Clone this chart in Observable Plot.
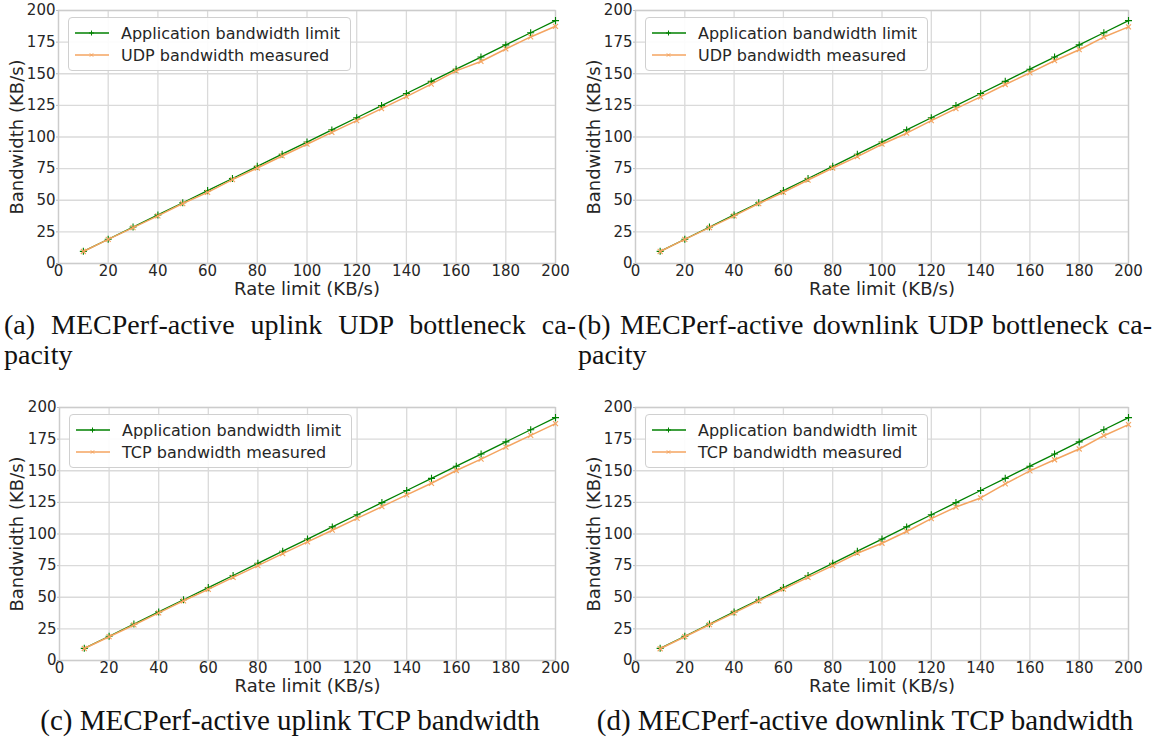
<!DOCTYPE html>
<html>
<head>
<meta charset="utf-8">
<script src="https://cdn.jsdelivr.net/npm/d3@7"></script>
<script src="https://cdn.jsdelivr.net/npm/@observablehq/plot@0.6"></script>
<style>
  html, body { margin: 0; padding: 0; background: #fff; }
  #page { position: relative; width: 1153px; height: 740px; overflow: hidden; }
  .panel { position: absolute; }
  .legend {
    position: absolute; background: rgba(255,255,255,0.9);
    border: 1px solid #d0d0d0; border-radius: 4px;
    font-family: "DejaVu Sans", sans-serif; font-size: 16px; color: #262626;
    padding: 4px 10px 4px 6px;
  }
  .legend .row { display: flex; align-items: center; height: 22px; }
  .legend svg { margin-right: 12px; }
  .caption {
    position: absolute; font-family: "Liberation Serif", serif; font-size: 29px;
    line-height: 30px; color: #111; white-space: nowrap;
  }
  .just { text-align: justify; text-align-last: justify; white-space: normal; font-size: 28px; }
  .cont { font-size: 28px; }
</style>
</head>
<body>
<div id="page"></div>
<script>
// Rate limits configured for each run (KB/s)
const rates = [10, 20, 30, 40, 50, 60, 70, 80, 90, 100, 110, 120, 130, 140, 150, 160, 170, 180, 190, 200];

// Bandwidth cap enforced by the application (KB/s)
const appLimit = [9.6, 19.2, 28.8, 38.4, 48, 57.6, 67.2, 76.8, 86.4, 96, 105.6, 115.2, 124.8, 134.4, 144, 153.6, 163.2, 172.8, 182.4, 192];

// Measured throughput (KB/s)
const udpUplink   = [9.5, 19.1, 28.4, 37.6, 47.4, 56.2, 66.3, 75.5, 85.0, 94.3, 103.6, 112.9, 122.4, 131.9, 141.8, 152.3, 159.7, 169.6, 179.1, 187.5];
const udpDownlink = [9.5, 19.1, 28.4, 37.6, 47.4, 56.3, 66.0, 75.5, 84.5, 94.3, 103.0, 112.9, 122.4, 131.7, 141.5, 150.7, 160.3, 169.0, 179.0, 187.1];
const tcpUplink   = [9.5, 18.8, 28.1, 37.6, 47.2, 56.2, 65.7, 75.0, 84.5, 93.8, 103.0, 112.3, 121.6, 130.9, 140.1, 150.2, 159.2, 168.7, 178.0, 187.3];
const tcpDownlink = [9.3, 18.8, 28.3, 37.6, 47.2, 56.4, 65.7, 75.0, 84.8, 92.7, 102.0, 112.1, 121.3, 128.5, 139.6, 149.9, 158.7, 167.2, 177.7, 186.5];

const xTicks = [0, 20, 40, 60, 80, 100, 120, 140, 160, 180, 200];
const yTicks = [0, 25, 50, 75, 100, 125, 150, 175, 200];

const limitName = "Application bandwidth limit";
const panels = [
  {measured: udpUplink,   name: "UDP bandwidth measured", left: 0,   top: 0,   ml: 58, mr: 21},
  {measured: udpDownlink, name: "UDP bandwidth measured", left: 577, top: 0,   ml: 58, mr: 25},
  {measured: tcpUplink,   name: "TCP bandwidth measured", left: 0,   top: 397, ml: 59, mr: 21},
  {measured: tcpDownlink, name: "TCP bandwidth measured", left: 577, top: 397, ml: 58, mr: 25}
];

const green = "#008000";
const orange = "#f4a460";
const ink = "#262626";
const page = document.getElementById("page");

function drawPanel(p) {
  const data = rates.map((r, i) => ({rate: r, limit: appLimit[i], measured: p.measured[i]}));
  const chart = Plot.plot({
    width: 576, height: 300,
    marginLeft: p.ml, marginRight: p.mr, marginTop: 10, marginBottom: 37,
    style: {fontFamily: "DejaVu Sans, sans-serif", fontSize: "15px", color: ink, background: "transparent", overflow: "visible"},
    x: {domain: [0, 200], ticks: xTicks, label: null},
    y: {domain: [0, 200], ticks: yTicks, label: null},
    marks: [
      Plot.gridX(xTicks, {stroke: "#dadada", strokeOpacity: 1, strokeWidth: 1.3}),
      Plot.gridY(yTicks, {stroke: "#dadada", strokeOpacity: 1, strokeWidth: 1.3}),
      Plot.frame({stroke: "#cccccc", strokeWidth: 1.3}),
      Plot.axisX(xTicks, {tickSize: 0, tickPadding: 2, fill: ink, fontSize: 15}),
      Plot.axisY(yTicks, {tickSize: 2, tickPadding: 1, stroke: "#bbb", fill: ink, fontSize: 15}),
      Plot.text(["Rate limit (KB/s)"], {frameAnchor: "bottom", text: d => d, dy: 26, lineAnchor: "middle", fontSize: 18, fill: ink}),
      Plot.text(["Bandwidth (KB/s)"], {frameAnchor: "left", text: d => d, dx: -p.ml + 17, rotate: -90, textAnchor: "middle", lineAnchor: "middle", fontSize: 18, fill: ink}),
      Plot.line(data, {x: "rate", y: "limit", stroke: green, strokeWidth: 1.3}),
      Plot.dot(data, {x: "rate", y: "limit", symbol: "plus", r: 2.4, stroke: green, strokeWidth: 1.1}),
      Plot.line(data, {x: "rate", y: "measured", stroke: orange, strokeWidth: 1.5}),
      Plot.dot(data, {x: "rate", y: "measured", symbol: "times", r: 2.4, stroke: orange, strokeWidth: 1.1})
    ]
  });
  const wrap = document.createElement("div");
  wrap.className = "panel";
  wrap.style.left = p.left + "px";
  wrap.style.top = p.top + "px";
  wrap.appendChild(chart);

  // legend box in the upper-left corner of the plotting area
  const legend = document.createElement("div");
  legend.className = "legend";
  legend.style.left = (p.ml + 10) + "px";
  legend.style.top = (10 + 7) + "px";
  const entries = [[limitName, green, "plus"], [p.name, orange, "times"]];
  for (const [label, color, sym] of entries) {
    const row = document.createElement("div");
    row.className = "row";
    const m = sym === "plus"
      ? `<path d="M16.5 0.5v5M14 3h5" stroke="${color}" stroke-width="1"/>`
      : `<path d="M14.8 1.3l3.4 3.4M18.2 1.3l-3.4 3.4" stroke="${color}" stroke-width="1"/>`;
    row.innerHTML = `<svg width="34" height="6" viewBox="0 0 34 6"><line x1="0" x2="34" y1="3" y2="3" stroke="${color}" stroke-width="${sym === "plus" ? 1.3 : 1.5}"/>${m}</svg><span>${label}</span>`;
    legend.appendChild(row);
  }
  wrap.appendChild(legend);
  page.appendChild(wrap);
}
panels.forEach(drawPanel);

// sub-figure captions
function caption(text, css, cls) {
  const d = document.createElement("div");
  d.className = "caption" + (cls ? " " + cls : "");
  Object.assign(d.style, css);
  d.textContent = text;
  page.appendChild(d);
  return d;
}
caption("(a) MECPerf-active uplink UDP bottleneck ca-", {left: "4px", top: "310px", width: "572px"}, "just");
caption("pacity", {left: "4px", top: "340px"}, "cont");
caption("(b) MECPerf-active downlink UDP bottleneck ca-", {left: "578px", top: "310px", width: "574px"}, "just");
caption("pacity", {left: "578px", top: "340px"}, "cont");
caption("(c) MECPerf-active uplink TCP bandwidth", {left: "0px", top: "705px", width: "580px", textAlign: "center"});
caption("(d) MECPerf-active downlink TCP bandwidth", {left: "590px", top: "705px", width: "550px", textAlign: "center"});
</script>
</body>
</html>
